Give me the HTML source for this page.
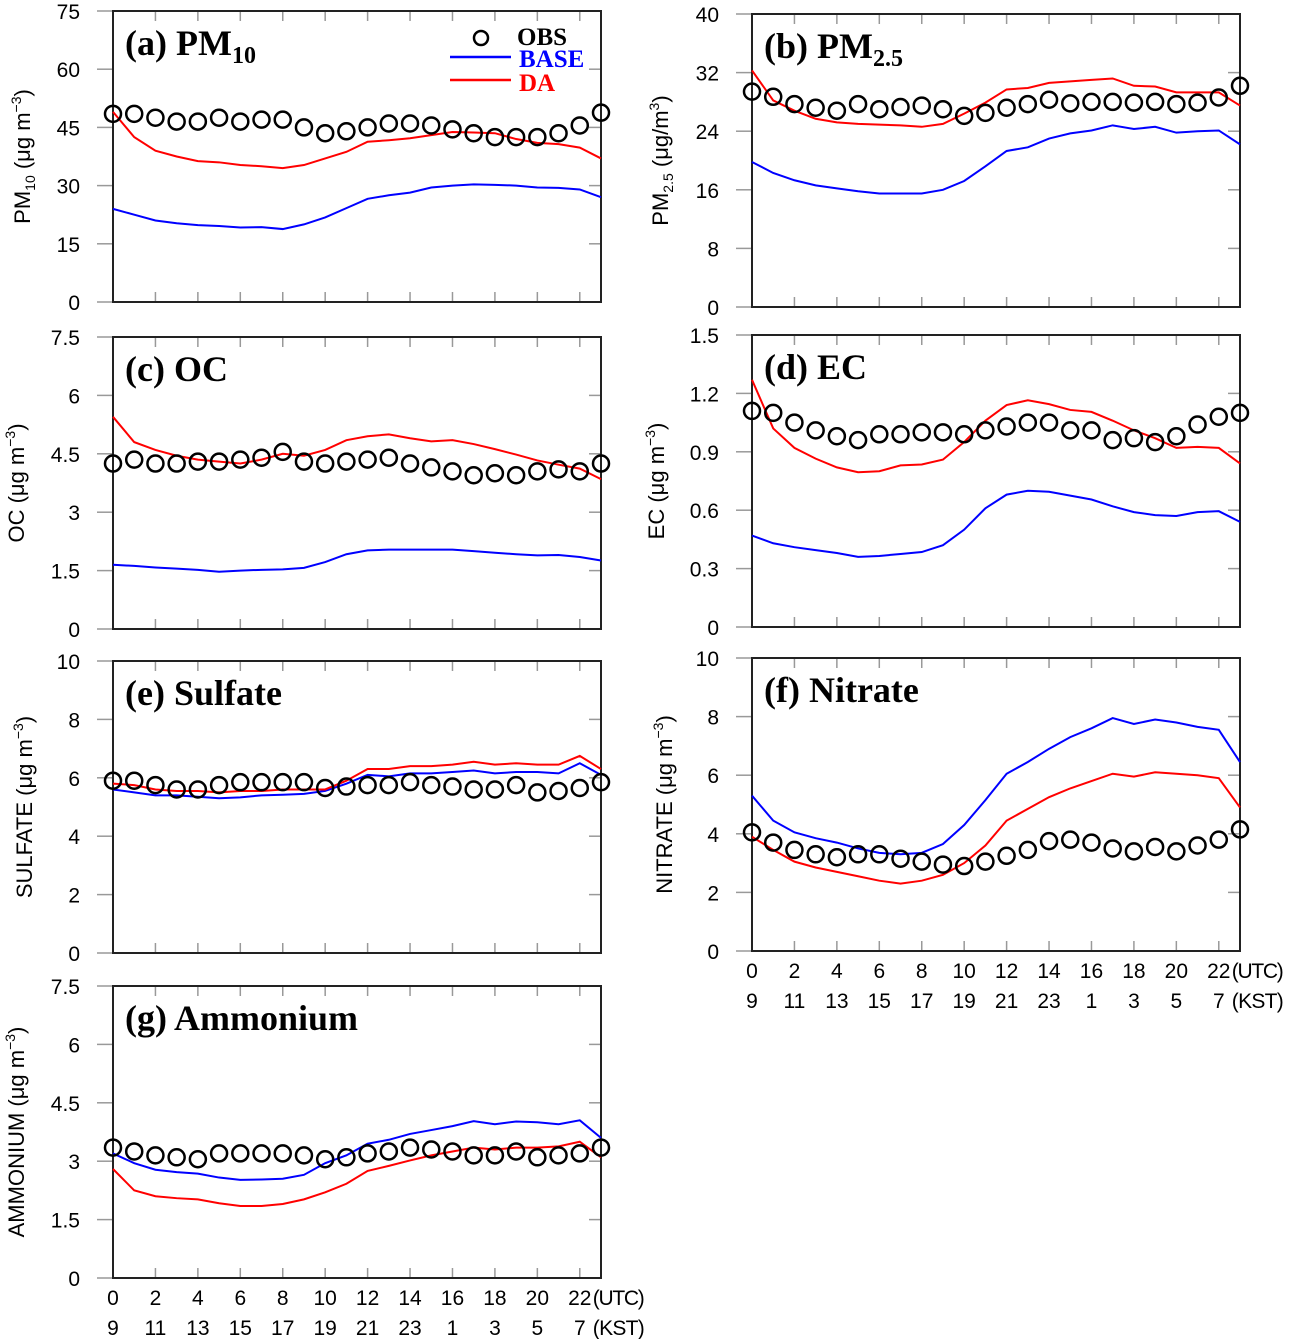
<!DOCTYPE html>
<html><head><meta charset="utf-8"><style>
body{margin:0;background:#fff}
svg{display:block}
.tk{font-family:"Liberation Sans",sans-serif;font-size:21px;fill:#000}
.yt{font-family:"Liberation Sans",sans-serif;font-size:22px;fill:#000}
.pt{font-family:"Liberation Serif",serif;font-size:36px;font-weight:bold;fill:#000}
</style></head><body>
<svg id="chart" width="1295" height="1339" viewBox="0 0 1295 1339" xmlns="http://www.w3.org/2000/svg"></svg>
<script>
const hours=[0,1,2,3,4,5,6,7,8,9,10,11,12,13,14,15,16,17,18,19,20,21,22,23];
const utcTicks=["0","2","4","6","8","10","12","14","16","18","20","22"];
const kstTicks=["9","11","13","15","17","19","21","23","1","3","5","7"];
// (a) PM10
const pm10Obs=[48.5,48.5,47.5,46.5,46.5,47.5,46.5,47,47,45,43.5,44,45,46,46,45.5,44.5,43.5,42.5,42.5,42.5,43.5,45.5,48.8];
const pm10Base=[24,22.5,21,20.3,19.8,19.6,19.2,19.3,18.8,20,21.8,24.2,26.6,27.5,28.2,29.5,30,30.3,30.2,30,29.5,29.4,29,27];
const pm10Da=[49,42.5,39,37.5,36.3,36,35.3,35,34.5,35.3,37,38.7,41.3,41.7,42.2,43,43.8,43.7,43.5,42,41,40.7,39.8,37];
const pm10Ticks=[0,15,30,45,60,75];
// (b) PM2.5
const pm25Obs=[29.4,28.7,27.7,27.2,26.8,27.7,27,27.3,27.5,27,26.1,26.5,27.2,27.7,28.3,27.8,28,28,27.9,28,27.7,27.9,28.6,30.2];
const pm25Base=[19.8,18.3,17.3,16.6,16.2,15.8,15.5,15.5,15.5,16,17.2,19.2,21.3,21.8,23,23.7,24.1,24.8,24.3,24.6,23.8,24,24.1,22.2];
const pm25Da=[32.3,28.2,26.8,25.7,25.2,25,24.9,24.8,24.6,25,26.4,27.9,29.7,29.9,30.6,30.8,31,31.2,30.2,30.1,29.3,29.3,29.3,27.5];
const pm25Ticks=[0,8,16,24,32,40];
// (c) OC
const ocObs=[4.25,4.35,4.25,4.25,4.3,4.3,4.35,4.4,4.55,4.3,4.25,4.3,4.35,4.4,4.25,4.15,4.05,3.95,4.0,3.95,4.05,4.1,4.05,4.25];
const ocBase=[1.65,1.62,1.58,1.55,1.52,1.47,1.5,1.52,1.53,1.57,1.72,1.92,2.02,2.04,2.04,2.04,2.04,2.0,1.96,1.92,1.89,1.9,1.85,1.76];
const ocDa=[5.45,4.8,4.6,4.45,4.35,4.3,4.25,4.35,4.5,4.45,4.6,4.85,4.95,5.0,4.9,4.82,4.85,4.75,4.62,4.48,4.33,4.22,4.12,3.85];
const ocTicks=[0,1.5,3,4.5,6,7.5];
// (d) EC
const ecObs=[1.11,1.10,1.05,1.01,0.98,0.96,0.99,0.99,1.0,1.0,0.99,1.01,1.03,1.05,1.05,1.01,1.01,0.96,0.97,0.95,0.98,1.04,1.08,1.10];
const ecBase=[0.47,0.43,0.41,0.395,0.38,0.36,0.365,0.375,0.385,0.42,0.50,0.61,0.68,0.70,0.695,0.675,0.655,0.62,0.59,0.575,0.57,0.59,0.595,0.54];
const ecDa=[1.27,1.02,0.92,0.865,0.82,0.795,0.8,0.83,0.835,0.86,0.95,1.06,1.14,1.165,1.145,1.115,1.105,1.06,1.01,0.97,0.92,0.925,0.92,0.84];
const ecTicks=[0,0.3,0.6,0.9,1.2,1.5];
// (e) Sulfate
const so4Obs=[5.9,5.9,5.75,5.6,5.6,5.75,5.85,5.85,5.85,5.85,5.65,5.7,5.75,5.75,5.85,5.75,5.7,5.6,5.6,5.75,5.5,5.55,5.65,5.85];
const so4Base=[5.6,5.5,5.4,5.4,5.35,5.3,5.33,5.4,5.42,5.45,5.55,5.8,6.1,6.05,6.15,6.15,6.2,6.25,6.15,6.2,6.2,6.15,6.5,6.1];
const so4Da=[5.8,5.75,5.6,5.55,5.55,5.5,5.55,5.55,5.6,5.6,5.6,5.9,6.3,6.3,6.4,6.4,6.45,6.55,6.45,6.5,6.45,6.45,6.75,6.3];
const so4Ticks=[0,2,4,6,8,10];
// (f) Nitrate
const no3Obs=[4.05,3.7,3.45,3.3,3.2,3.3,3.3,3.15,3.05,2.95,2.9,3.05,3.25,3.45,3.75,3.8,3.7,3.5,3.4,3.55,3.4,3.6,3.8,4.15];
const no3Base=[5.3,4.45,4.05,3.85,3.7,3.5,3.35,3.3,3.35,3.65,4.3,5.15,6.05,6.45,6.9,7.3,7.6,7.95,7.75,7.9,7.8,7.65,7.55,6.45];
const no3Da=[3.9,3.45,3.05,2.85,2.7,2.55,2.4,2.3,2.4,2.6,3.0,3.6,4.45,4.85,5.25,5.55,5.8,6.05,5.95,6.1,6.05,6.0,5.9,4.9];
const no3Ticks=[0,2,4,6,8,10];
// (g) Ammonium
const nh4Obs=[3.35,3.25,3.15,3.1,3.05,3.2,3.2,3.2,3.2,3.15,3.05,3.1,3.2,3.25,3.35,3.3,3.25,3.15,3.15,3.25,3.1,3.15,3.2,3.35];
const nh4Base=[3.2,2.95,2.78,2.72,2.68,2.58,2.52,2.53,2.55,2.65,2.95,3.15,3.45,3.55,3.7,3.8,3.9,4.03,3.95,4.02,4.0,3.95,4.05,3.6];
const nh4Da=[2.8,2.25,2.1,2.05,2.02,1.92,1.85,1.85,1.9,2.02,2.2,2.42,2.75,2.88,3.02,3.15,3.25,3.35,3.3,3.35,3.35,3.38,3.5,3.1];
const nh4Ticks=[0,1.5,3,4.5,6,7.5];

const svg=document.getElementById('chart');
const NS='http://www.w3.org/2000/svg';
function mk(tag,attrs,parent){const e=document.createElementNS(NS,tag);for(const k in attrs)e.setAttribute(k,attrs[k]);(parent||svg).appendChild(e);return e;}

function panel(id,L,T,R,B,ticks,obs,base,da,title,sub,ylabelHTML,ytx,xlabels){
  const g=mk('g',{});
  
  
  const ymax=ticks[ticks.length-1];
  const x=h=>L+(R-L)*h/23;
  const y=v=>B-(B-T)*v/ymax;
  ticks.forEach(t=>{
    const yy=y(t);
    const tl=mk('line',{x1:L-16,y1:yy,x2:L,y2:yy,stroke:'#999','stroke-width':1.5},g);
    
    
    mk('line',{x1:R-12,y1:yy,x2:R,y2:yy,stroke:'#999','stroke-width':1.5},g);
    const tx=mk('text',{x:L-33,y:yy+8,'text-anchor':'end',class:'tk'},g);
    tx.textContent=String(t);
    
    
  });
  for(let h=2;h<=22;h+=2){
    mk('line',{x1:x(h),y1:B,x2:x(h),y2:B-10,stroke:'#999','stroke-width':1.5},g);
    mk('line',{x1:x(h),y1:T,x2:x(h),y2:T+10,stroke:'#999','stroke-width':1.5},g);
  }
  const box=mk('rect',{x:L,y:T,width:R-L,height:B-T,fill:'none',stroke:'#222','stroke-width':2},g);
  
  
  function line(arr,col,nm){
    const p=mk('polyline',{points:arr.map((v,i)=>x(hours[i])+','+y(v)).join(' '),fill:'none',stroke:col,'stroke-width':2},g);
    
    
  }
  line(base,'#0000ff','base-line');
  line(da,'#ff0000','da-line');
  obs.forEach((v,i)=>{
    const c=mk('circle',{cx:x(hours[i]),cy:y(v),r:8,fill:'none',stroke:'#000','stroke-width':2.5},g);
    
    
  });
  const t=mk('text',{x:L+12,y:T+44,class:'pt'},g);
  t.innerHTML=title+(sub?'<tspan font-size="24" dy="8">'+sub+'</tspan>':'');
  
  
  const yl=mk('text',{x:0,y:0,class:'yt','text-anchor':'middle',transform:`translate(${ytx},${(T+B)/2}) rotate(-90)`},g);
  yl.innerHTML=ylabelHTML;
  
  
  if(xlabels){
    utcTicks.forEach((s,i)=>{
      const a=mk('text',{x:x(i*2),y:B+27,'text-anchor':'middle',class:'tk'},g);a.textContent=s;
      
      
      const b=mk('text',{x:x(i*2),y:B+57,'text-anchor':'middle',class:'tk'},g);b.textContent=kstTicks[i];
      
      
    });
    const u=mk('text',{x:x(22)+13,y:B+27,class:'tk',textLength:52},g);u.textContent='(UTC)';
    
    
    const k=mk('text',{x:x(22)+13,y:B+57,class:'tk',textLength:52},g);k.textContent='(KST)';
    
    
  }
}
const ug='(&#956;g m<tspan font-size="14" dy="-9">−3</tspan><tspan dy="9">)</tspan>';
panel('a',113,11,601,302,pm10Ticks,pm10Obs,pm10Base,pm10Da,'(a) PM','10','PM<tspan font-size="14" dy="5">10</tspan><tspan dy="-5"> </tspan>'+ug,30);
panel('b',752,14,1240,307,pm25Ticks,pm25Obs,pm25Base,pm25Da,'(b) PM','2.5','PM<tspan font-size="14" dy="5">2.5</tspan><tspan dy="-5"> (&#956;g/m</tspan><tspan font-size="14" dy="-9">3</tspan><tspan dy="9">)</tspan>',668);
panel('c',113,337,601,629,ocTicks,ocObs,ocBase,ocDa,'(c) OC','','OC '+ug,24);
panel('d',752,335,1240,627,ecTicks,ecObs,ecBase,ecDa,'(d) EC','','EC '+ug,664);
panel('e',113,661,601,953,so4Ticks,so4Obs,so4Base,so4Da,'(e) Sulfate','','SULFATE '+ug,32);
panel('f',752,658,1240,951,no3Ticks,no3Obs,no3Base,no3Da,'(f) Nitrate','','NITRATE '+ug,672,true);
panel('g',113,986,601,1278,nh4Ticks,nh4Obs,nh4Base,nh4Da,'(g) Ammonium','','AMMONIUM '+ug,24,true);

const lg=mk('g',{});


const lc=mk('circle',{cx:481,cy:38,r:7,fill:'none',stroke:'#000','stroke-width':2.5},lg);


const lo=mk('text',{x:517,y:45,class:'pt',style:'font-size:25px'},lg);lo.textContent='OBS';


mk('line',{x1:450,y1:57,x2:511,y2:57,stroke:'#0000ff','stroke-width':2.5},lg);
const lb=mk('text',{x:519,y:67,class:'pt',style:'font-size:25px;fill:#0000ff'},lg);lb.textContent='BASE';


mk('line',{x1:450,y1:80,x2:511,y2:80,stroke:'#ff0000','stroke-width':2.5},lg);
const ld=mk('text',{x:519,y:91,class:'pt',style:'font-size:25px;fill:#ff0000'},lg);ld.textContent='DA';


</script>
</body></html>
